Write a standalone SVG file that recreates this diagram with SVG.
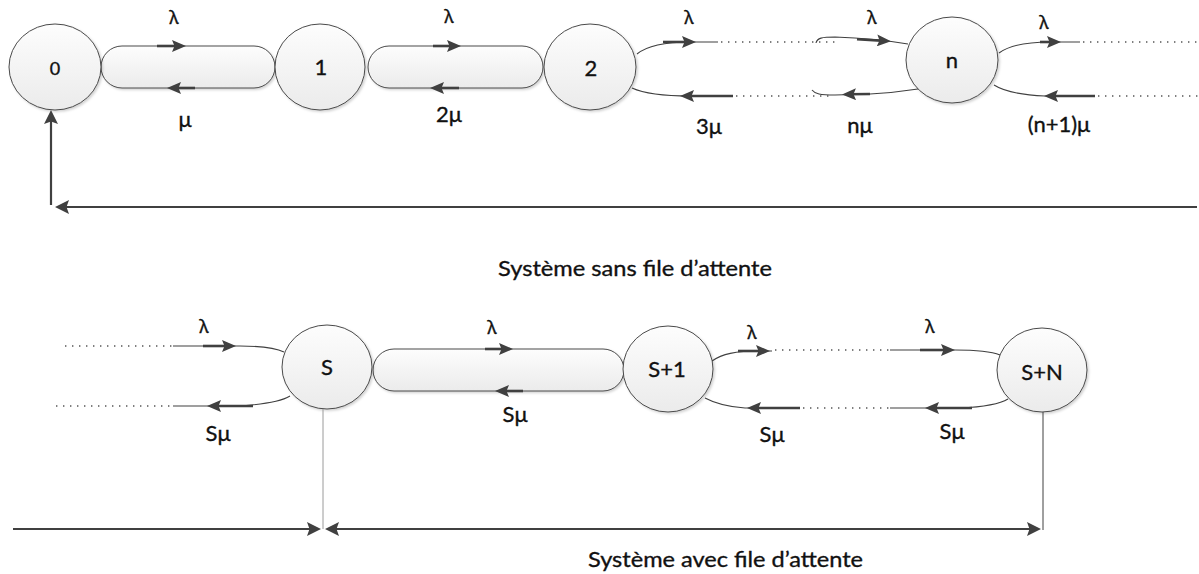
<svg xmlns="http://www.w3.org/2000/svg" width="1199" height="574" viewBox="0 0 1199 574">
  <style>
    .shape { fill: url(#fillGrad); stroke: #4a4a4a; stroke-width: 1; filter: url(#soft); }
    .thin { fill: none; stroke: #404040; stroke-width: 1.1; }
    .thick { fill: none; stroke: #404040; stroke-width: 2.6; marker-end: url(#ah); }
    .dots { fill: none; stroke: #555; stroke-width: 1.4; stroke-dasharray: 1.4 5.6; }
    .bar { fill: none; stroke: #404040; stroke-width: 2.2; }
    text { font-family: Lato, "Noto Sans", "DejaVu Sans", sans-serif; fill: #111; stroke: #111; stroke-width: 0.35; text-anchor: middle; }
    .nl { font-size: 22px; }
    .n0 { font-size: 18px; }
    .el { font-size: 22px; }
    .lam { font-size: 18px; font-family: "Noto Sans", "DejaVu Sans", sans-serif; }
    .cap { font-size: 22px; text-anchor: start; }
  </style>
  <defs>
    <linearGradient id="fillGrad" x1="0" y1="0" x2="0" y2="1">
      <stop offset="0" stop-color="#fdfdfd"/>
      <stop offset="1" stop-color="#ebebeb"/>
    </linearGradient>
    <filter id="soft" x="-10%" y="-10%" width="125%" height="125%">
      <feDropShadow dx="1.5" dy="1.5" stdDeviation="1.2" flood-color="#000" flood-opacity="0.18"/>
    </filter>
    <marker id="ah" markerUnits="userSpaceOnUse" markerWidth="14" markerHeight="12" viewBox="0 0 14 12" refX="8" refY="6" orient="auto">
      <path d="M0,0 L14,6 L0,12 L2.5,6 z" fill="#404040"/>
    </marker>
    <marker id="ah2" markerUnits="userSpaceOnUse" markerWidth="14" markerHeight="14" viewBox="0 0 14 14" refX="8" refY="7" orient="auto-start-reverse">
      <path d="M0,0 L14,7 L0,14 L2.5,7 z" fill="#404040"/>
    </marker>
  </defs>

  <!-- links between states (pills) -->
  <g id="link-0-1">
    <rect class="shape" x="101" y="46" width="174" height="42" rx="21"/>
  </g>
  <g id="link-1-2">
    <rect class="shape" x="368" y="46" width="175" height="42" rx="21"/>
  </g>
  <g id="link-S-S1">
    <rect class="shape" x="373" y="349" width="251" height="42" rx="21"/>
  </g>

  <!-- states -->
  <g id="state-0">
    <ellipse class="shape" cx="55" cy="67" rx="46" ry="43"/>
    <text class="n0" x="55" y="75">0</text>
  </g>
  <g id="state-1">
    <ellipse class="shape" cx="320" cy="67" rx="45" ry="43"/>
    <text class="nl" x="321" y="75">1</text>
  </g>
  <g id="state-2">
    <ellipse class="shape" cx="590" cy="67" rx="46" ry="43"/>
    <text class="nl" x="591" y="76">2</text>
  </g>
  <g id="state-n">
    <ellipse class="shape" cx="952" cy="60" rx="46" ry="43"/>
    <text class="nl" x="952" y="68">n</text>
  </g>
  <g id="state-S">
    <ellipse class="shape" cx="327" cy="367" rx="45" ry="42"/>
    <text class="nl" x="327" y="375">S</text>
  </g>
  <g id="state-S1">
    <ellipse class="shape" cx="668" cy="369" rx="45" ry="43"/>
    <text class="nl" x="667" y="377">S+1</text>
  </g>
  <g id="state-SN">
    <ellipse class="shape" cx="1042" cy="370" rx="45" ry="42"/>
    <text class="nl" x="1042" y="380">S+N</text>
  </g>

  <!-- transitions -->
  <g id="connectors">
    <!-- system without queue -->
    <path class="thick" d="M157,46 L180,46"/>
    <path class="thick" d="M195,88 L173,88"/>
    <path class="thick" d="M433,46 L455,46"/>
    <path class="thick" d="M459,88 L436,88"/>

    <path class="thin" d="M637,54 C648,45 665,42 690,42 L718,42"/>
    <path class="thick" d="M663,42 L690,42"/>
    <path class="dots" d="M721,42 L838,42"/>
    <path class="thin" d="M816,43 C817,38 822,37 835,37 C860,38 890,41 908,44"/>
    <path class="thick" d="M857,39.2 L885,40.9"/>

    <path class="thin" d="M632,88 C645,94 662,96 690,96 L733,96"/>
    <path class="thick" d="M733,96 L686,96"/>
    <path class="dots" d="M736,96 L830,96"/>
    <path class="thin" d="M812,90 C815,94 820,95 835,95 L870,94 C890,93 905,91 918,89"/>
    <path class="thick" d="M870,94 L848,94.3"/>

    <path class="thin" d="M999,53 C1010,45 1028,42 1050,42 L1080,42"/>
    <path class="thick" d="M1040,42 L1055,42"/>
    <path class="dots" d="M1083,42 L1199,42"/>
    <path class="thin" d="M994,85 C1005,92 1022,95 1045,96 L1095,96"/>
    <path class="thick" d="M1095,96 L1050,96"/>
    <path class="dots" d="M1098,96 L1199,96"/>

    <path class="bar" d="M51,205 L51,116" marker-end="url(#ah2)"/>
    <path class="bar" d="M1197,207 L61,207" marker-end="url(#ah2)"/>

    <!-- system with queue -->
    <path class="dots" d="M65,346 L173,346"/>
    <path class="thin" d="M173,346 L240,346 C262,346 276,348 284,352"/>
    <path class="thick" d="M203,346 L230,346"/>
    <path class="dots" d="M56,406 L173,406"/>
    <path class="thin" d="M173,406 L235,406 C258,405 280,402 290,396"/>
    <path class="thick" d="M253,406 L213,406"/>

    <path class="thick" d="M485,349 L507,349"/>
    <path class="thick" d="M523,391 L501,391"/>

    <path class="thin" d="M712,361 C722,354 735,351 760,351 L772,351"/>
    <path class="thick" d="M738,351 L764,351"/>
    <path class="dots" d="M775,350 L890,350"/>
    <path class="thin" d="M890,350 L955,350 C975,350 990,351 1000,355"/>
    <path class="thick" d="M920,350 L949,350"/>

    <path class="thin" d="M705,398 C718,405 730,407 745,408 L800,408"/>
    <path class="thick" d="M800,408 L753,408"/>
    <path class="dots" d="M803,408 L890,408"/>
    <path class="thin" d="M890,408 L960,408 C982,407 1000,404 1008,399"/>
    <path class="thick" d="M972,408 L931,408"/>

    <path d="M323,409 L323,529" fill="none" stroke="#9a9a9a" stroke-width="1"/>
    <path d="M1043,412 L1043,530" fill="none" stroke="#404040" stroke-width="1"/>
    <path class="bar" d="M13,529 L315,529" marker-end="url(#ah2)"/>
    <path class="bar" d="M331,529 L1035,529" marker-start="url(#ah2)" marker-end="url(#ah2)"/>
  </g>

  <!-- rate labels -->
  <g id="labels">
    <text class="lam" x="174" y="24">λ</text>
    <text class="el" x="185" y="127">μ</text>
    <text class="lam" x="449" y="23">λ</text>
    <text class="el" x="449" y="122">2μ</text>
    <text class="lam" x="689" y="24">λ</text>
    <text class="el" x="709" y="134">3μ</text>
    <text class="lam" x="872" y="24">λ</text>
    <text class="el" x="860" y="133">nμ</text>
    <text class="lam" x="1044" y="29">λ</text>
    <text class="el" x="1059" y="132">(n+1)μ</text>

    <text class="lam" x="204" y="333">λ</text>
    <text class="el" x="218" y="441">Sμ</text>
    <text class="lam" x="492" y="334">λ</text>
    <text class="el" x="515" y="422">Sμ</text>
    <text class="lam" x="752" y="339">λ</text>
    <text class="el" x="772" y="442">Sμ</text>
    <text class="lam" x="930" y="333">λ</text>
    <text class="el" x="952" y="439">Sμ</text>
  </g>

  <g id="captions">
    <text class="cap" x="498" y="276" textLength="274" lengthAdjust="spacingAndGlyphs">Système sans file d’attente</text>
    <text class="cap" x="588" y="567" textLength="275" lengthAdjust="spacingAndGlyphs">Système avec file d’attente</text>
  </g>
</svg>
